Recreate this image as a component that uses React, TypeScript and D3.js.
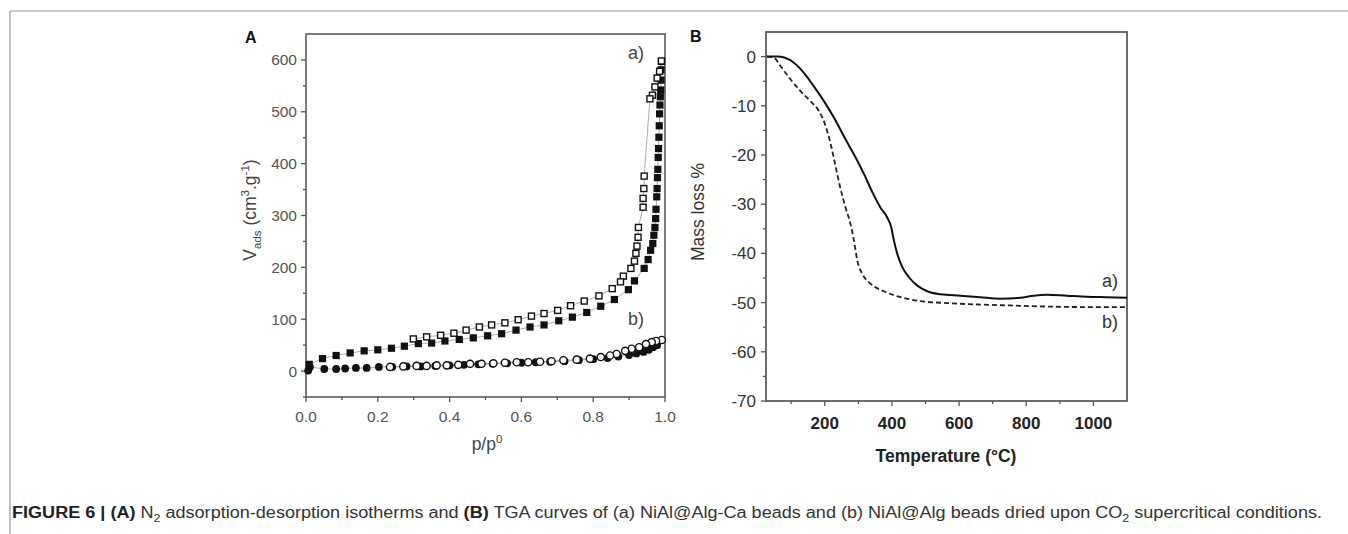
import React from "react";
import * as d3 from "d3";

// ---- Panel A: N2 isotherms (p/p0, V cm3/g) ----
const adsA_p = [0.009, 0.046, 0.084, 0.123, 0.162, 0.2, 0.238, 0.274, 0.313, 0.35, 0.387, 0.427, 0.466, 0.506, 0.545, 0.585, 0.624, 0.663, 0.704, 0.742, 0.782, 0.821, 0.859, 0.898, 0.915, 0.942, 0.953, 0.96, 0.966, 0.969, 0.972, 0.974, 0.975, 0.977, 0.978, 0.979, 0.98, 0.981, 0.982, 0.983, 0.984, 0.985, 0.986, 0.987, 0.988, 0.989, 0.989, 0.99];
const adsA_v = [13, 24, 30, 35, 39, 41, 44, 48, 53, 54, 58, 61, 64, 68, 72, 79, 85, 89, 97, 104, 113, 125, 138, 157, 174, 198, 215, 233, 246, 262, 277, 294, 312, 336, 352, 373, 389, 412, 429, 451, 473, 496, 513, 529, 542, 561, 581, 597];

const desA_p = [0.99, 0.985, 0.978, 0.972, 0.965, 0.958, 0.942, 0.941, 0.939, 0.939, 0.926, 0.925, 0.922, 0.919, 0.915, 0.905, 0.884, 0.876, 0.853, 0.816, 0.775, 0.737, 0.701, 0.663, 0.628, 0.591, 0.554, 0.517, 0.483, 0.446, 0.412, 0.375, 0.336, 0.299];
const desA_v = [598, 578, 565, 548, 532, 525, 376, 352, 333, 316, 277, 258, 241, 227, 212, 198, 183, 172, 159, 145, 135, 126, 117, 111, 106, 99, 93, 89, 85, 79, 73, 69, 66, 62];

const adsB_p = [0.006, 0.011, 0.051, 0.084, 0.109, 0.139, 0.169, 0.203, 0.24, 0.28, 0.32, 0.36, 0.4, 0.44, 0.48, 0.52, 0.56, 0.6, 0.64, 0.68, 0.72, 0.76, 0.8, 0.84, 0.87, 0.9, 0.92, 0.94, 0.955, 0.967, 0.978];
const adsB_v = [1, 8, 4, 4, 5, 6, 6, 8, 8, 9, 9, 10, 11, 12, 13, 14, 15, 16, 17, 18, 19, 21, 23, 25, 28, 31, 34, 37, 41, 46, 50];

const desB_p = [0.991, 0.975, 0.963, 0.947, 0.928, 0.907, 0.889, 0.865, 0.847, 0.821, 0.791, 0.754, 0.717, 0.684, 0.652, 0.619, 0.587, 0.554, 0.522, 0.489, 0.457, 0.424, 0.392, 0.364, 0.336, 0.308, 0.271, 0.234];
const desB_v = [60, 58, 56, 52, 46, 43, 39, 33, 30, 27, 24, 22, 21, 19, 18, 17, 17, 16, 15, 14, 14, 12, 11, 11, 10, 10, 9, 8];

const ticksA_x = [0, 0.2, 0.4, 0.6, 0.8, 1.0];
const minorA_x = [0.1, 0.3, 0.5, 0.7, 0.9];
const ticksA_y = [0, 100, 200, 300, 400, 500, 600];
const minorA_y = [-50, 50, 150, 250, 350, 450, 550];

// ---- Panel B: TGA (temperature °C, mass loss %) ----
const tgaA_t = [28, 59, 79, 109, 139, 168, 198, 228, 257, 287, 317, 342, 366, 386, 398, 406, 416, 431, 450, 475, 505, 545, 604, 663, 723, 782, 822, 861, 921, 980, 1040, 1100];
const tgaA_m = [0, 0, -0.2, -1.3, -3.4, -6.1, -9.1, -12.5, -16.2, -19.9, -23.9, -27.6, -30.7, -32.7, -34.7, -37.4, -40.1, -42.8, -44.8, -46.5, -47.7, -48.3, -48.6, -48.9, -49.2, -49.0, -48.6, -48.4, -48.6, -48.8, -48.9, -49.0];

const tgaB_t = [28, 50, 69, 99, 129, 158, 183, 203, 218, 231, 246, 262, 277, 287, 297, 312, 337, 376, 426, 485, 564, 663, 762, 861, 960, 1100];
const tgaB_m = [0, -0.3, -2.0, -4.7, -7.1, -9.1, -11.1, -14.2, -17.9, -21.9, -26.6, -30.7, -34.1, -37.4, -41.5, -44.2, -46.2, -47.7, -48.9, -49.7, -50.1, -50.4, -50.6, -50.8, -50.9, -50.9];

const ticksB_x = [200, 400, 600, 800, 1000];
const minorB_x = [100, 300, 500, 700, 900];
const ticksB_y = [0, -10, -20, -30, -40, -50, -60, -70];
const minorB_y = [-5, -15, -25, -35, -45, -55, -65];

const FONT = "'Liberation Sans', Arial, sans-serif";
const AXIS = "#555";

const xA = d3.scaleLinear().domain([0, 1]).range([306, 665]);
const yA = d3.scaleLinear().domain([-50, 650]).range([397, 34]);
const xB = d3.scaleLinear().domain([25, 1100]).range([766, 1127]);
const yB = d3.scaleLinear().domain([-70, 5]).range([401, 32]);

const zip = (a: number[], b: number[]) => a.map((v, i) => [v, b[i]] as [number, number]);

function PanelA() {
  const line = d3.line<[number, number]>().x(d => xA(d[0])).y(d => yA(d[1]));
  const [x0, x1] = xA.range();
  const [y0, y1] = yA.range();
  const sq = 7.2;
  return (
    <g fontFamily={FONT}>
      <rect x={x0} y={y1} width={x1 - x0} height={y0 - y1} fill="none" stroke="#666" strokeWidth={1.7} />
      {ticksA_y.map(t => (
        <g key={"y" + t}>
          <line x1={x0 - 5} x2={x0} y1={yA(t)} y2={yA(t)} stroke={AXIS} strokeWidth={1.3} />
          <text x={x0 - 9} y={yA(t) + 5.5} textAnchor="end" fontSize={15.5} fill="#555">{t}</text>
        </g>
      ))}
      {minorA_y.map(t => (
        <line key={"my" + t} x1={x0 - 3} x2={x0} y1={yA(t)} y2={yA(t)} stroke={AXIS} strokeWidth={1.3} />
      ))}
      {ticksA_x.map(t => (
        <g key={"x" + t}>
          <line x1={xA(t)} x2={xA(t)} y1={y0} y2={y0 + 5} stroke={AXIS} strokeWidth={1.3} />
          <text x={xA(t)} y={422} textAnchor="middle" fontSize={15.5} fill="#555">{t.toFixed(1)}</text>
        </g>
      ))}
      {minorA_x.map(t => (
        <line key={"mx" + t} x1={xA(t)} x2={xA(t)} y1={y0} y2={y0 + 3} stroke={AXIS} strokeWidth={1.3} />
      ))}

      {/* thin connecting lines */}
      {[zip(adsA_p, adsA_v), zip(desA_p, desA_v), zip(adsB_p, adsB_v), zip(desB_p, desB_v)].map((d, i) => (
        <path key={"l" + i} d={line(d) || ""} fill="none" stroke="#999" strokeWidth={0.8} />
      ))}

      {zip(adsB_p, adsB_v).map((d, i) => (
        <circle key={"fb" + i} cx={xA(d[0])} cy={yA(d[1])} r={3.9} fill="#111" />
      ))}
      {zip(desB_p, desB_v).map((d, i) => (
        <circle key={"ob" + i} cx={xA(d[0])} cy={yA(d[1])} r={3.6} fill="#fff" stroke="#111" strokeWidth={1.4} />
      ))}
      {zip(adsA_p, adsA_v).map((d, i) => (
        <rect key={"fa" + i} x={xA(d[0]) - sq / 2} y={yA(d[1]) - sq / 2} width={sq} height={sq} fill="#111" />
      ))}
      {zip(desA_p, desA_v).map((d, i) => (
        <rect key={"oa" + i} x={xA(d[0]) - sq / 2 + 0.6} y={yA(d[1]) - sq / 2 + 0.6} width={sq - 1.2} height={sq - 1.2} fill="#fff" stroke="#111" strokeWidth={1.4} />
      ))}

      <text x={628} y={59} fontSize={18} fill="#444">a)</text>
      <text x={628} y={325} fontSize={18} fill="#444">b)</text>

      <text x={245} y={43} fontSize={16} fontWeight="bold" fill="#111">A</text>
      <text x={487} y={450} textAnchor="middle" fontSize={17.5} fill="#444">
        p/p<tspan dy={-7} fontSize={11.5}>0</tspan>
      </text>
      <text transform="translate(256,210) rotate(-90)" textAnchor="middle" fontSize={17.5} fill="#444">
        V<tspan dy={5} fontSize={11.5}>ads</tspan>
        <tspan dy={-5}> (cm</tspan>
        <tspan dy={-7} fontSize={11.5}>3</tspan>
        <tspan dy={7}>.g</tspan>
        <tspan dy={-7} fontSize={11.5}>-1</tspan>
        <tspan dy={7}>)</tspan>
      </text>
    </g>
  );
}

function PanelB() {
  const line = d3.line<[number, number]>().x(d => xB(d[0])).y(d => yB(d[1])).curve(d3.curveMonotoneX);
  const [x0, x1] = xB.range();
  const [y0, y1] = yB.range();
  return (
    <g fontFamily={FONT}>
      <rect x={x0} y={y1} width={x1 - x0} height={y0 - y1} fill="none" stroke="#555" strokeWidth={1.7} />
      {ticksB_y.map(t => (
        <g key={"y" + t}>
          <line x1={x0 - 5} x2={x0} y1={yB(t)} y2={yB(t)} stroke={AXIS} strokeWidth={1.3} />
          <text x={x0 - 10} y={yB(t) + 6} textAnchor="end" fontSize={17} fill="#333">{t}</text>
        </g>
      ))}
      {minorB_y.map(t => (
        <line key={"my" + t} x1={x0 - 3} x2={x0} y1={yB(t)} y2={yB(t)} stroke={AXIS} strokeWidth={1.3} />
      ))}
      {ticksB_x.map(t => (
        <g key={"x" + t}>
          <line x1={xB(t)} x2={xB(t)} y1={y0} y2={y0 + 5} stroke={AXIS} strokeWidth={1.3} />
          <text x={xB(t)} y={429} textAnchor="middle" fontSize={17} fontWeight="bold" fill="#222">{t}</text>
        </g>
      ))}
      {minorB_x.map(t => (
        <line key={"mx" + t} x1={xB(t)} x2={xB(t)} y1={y0} y2={y0 + 3} stroke={AXIS} strokeWidth={1.3} />
      ))}

      <path d={line(zip(tgaB_t, tgaB_m)) || ""} fill="none" stroke="#222" strokeWidth={1.8} strokeDasharray="5,3" />
      <path d={line(zip(tgaA_t, tgaA_m)) || ""} fill="none" stroke="#111" strokeWidth={2} />

      <text x={1102} y={287} fontSize={18} fill="#333">a)</text>
      <text x={1102} y={328} fontSize={18} fill="#333">b)</text>

      <text x={690} y={42} fontSize={16} fontWeight="bold" fill="#111">B</text>
      <text x={946} y={462} textAnchor="middle" fontSize={17.5} fontWeight="bold" fill="#222">Temperature (°C)</text>
      <text transform="translate(704,212) rotate(-90)" textAnchor="middle" fontSize={17.5} fill="#333">Mass loss %</text>
    </g>
  );
}

export default function App() {
  return (
    <svg width={1348} height={534} style={{ position: "absolute", left: 0, top: 0, background: "#fff" }}>
      <rect width={1348} height={534} fill="#fff" />
      <line x1={10} x2={10} y1={11} y2={534} stroke="#999" strokeWidth={1.2} />
      <line x1={10} x2={1348} y1={11} y2={11} stroke="#999" strokeWidth={1.2} />
      <PanelA />
      <PanelB />
      <text x={12} y={518} fontFamily={FONT} fontSize={16} fill="#333" textLength={1310} lengthAdjust="spacingAndGlyphs">
        <tspan fontWeight="bold" fill="#222">FIGURE 6 | (A)</tspan>
        <tspan> N</tspan>
        <tspan dy={4} fontSize={11}>2</tspan>
        <tspan dy={-4}> adsorption-desorption isotherms and </tspan>
        <tspan fontWeight="bold" fill="#222">(B)</tspan>
        <tspan> TGA curves of (a) NiAl@Alg-Ca beads and (b) NiAl@Alg beads dried upon CO</tspan>
        <tspan dy={4} fontSize={11}>2</tspan>
        <tspan dy={-4}> supercritical conditions.</tspan>
      </text>
    </svg>
  );
}
